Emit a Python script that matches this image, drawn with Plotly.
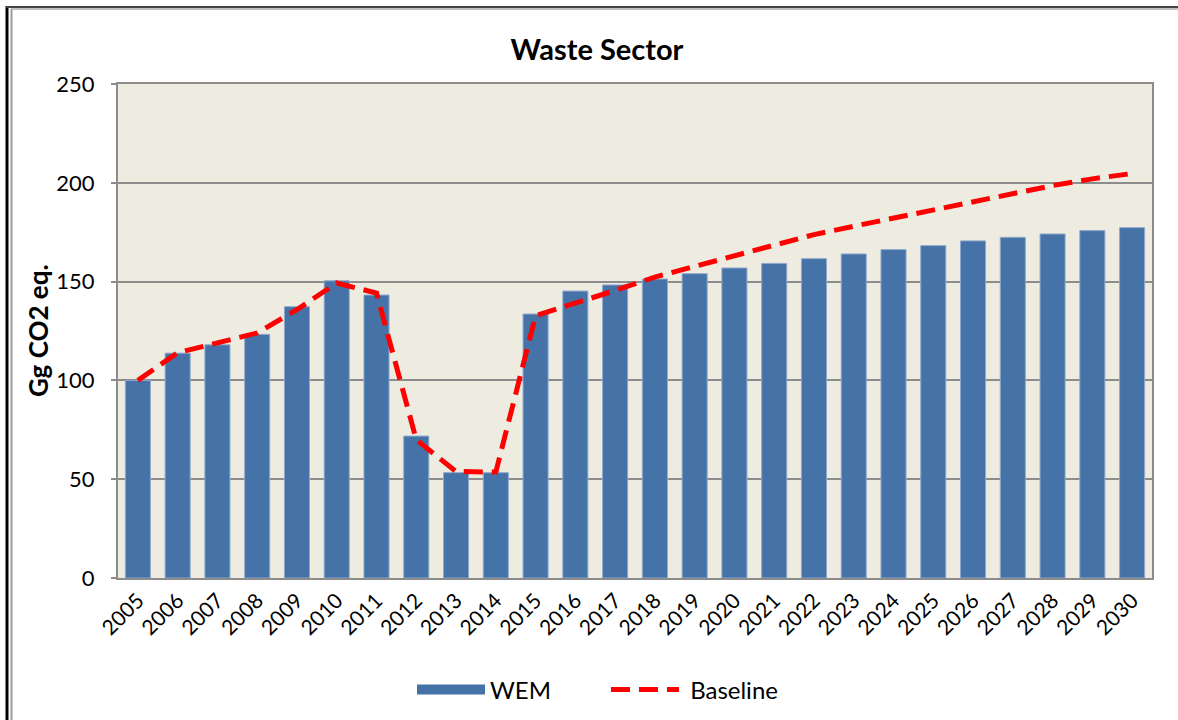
import plotly.graph_objects as go

years = [str(y) for y in range(2005, 2031)]
wem = [100, 113.8, 118, 123.3, 137.3, 150.4, 143.2, 71.8, 53.3, 53.3, 133.6, 145.2,
       148.3, 151.3, 154, 156.9, 159.2, 161.6, 164, 166.2, 168.2, 170.6, 172.4,
       174.1, 175.8, 177.3]
baseline = [100, 114, 119, 124, 135.8, 149.3, 144.2, 70, 53.9, 53.6, 132.7, 138.8,
            145.5, 152.3, 157.7, 163.6, 169, 173.8, 178, 182.2, 186.4, 190.6, 194.5,
            198.6, 202, 204.7]
y_ticks = [0, 50, 100, 150, 200, 250]

W, H = 1178, 720
L, R, T, B = 118, 26, 84, 142
pw, ph = W - L - R, H - T - B

def px(x):
    return (x - L) / pw

def py(y):
    return (H - B - y) / ph

FONT = "Lato"
BAR = "#4572A7"

fig = go.Figure()
fig.add_trace(go.Bar(
    x=years, y=wem, name="WEM", showlegend=False,
    marker=dict(color=BAR, line=dict(color="#8FA9CC", width=1)),
))
# legend proxy for the bar series (wide rectangle swatch like the original)
fig.add_trace(go.Scatter(
    x=[None], y=[None], name="WEM", mode="lines",
    line=dict(color=BAR, width=14),
))
fig.add_trace(go.Scatter(
    x=years, y=baseline, name=" Baseline", mode="lines",
    line=dict(color="#FF0000", width=5, dash="19px,9px"),
))

fig.update_layout(
    width=W, height=H,
    margin=dict(l=L, r=R, t=T, b=B, autoexpand=False),
    paper_bgcolor="white",
    plot_bgcolor="#EEEBE0",
    bargap=0.37,
    font=dict(family=FONT, size=22, color="black"),
    title=dict(text="<b>Waste Sector</b>", x=px(597), xref="paper", xanchor="center",
               y=1 - 50 / H, yref="container", yanchor="middle",
               font=dict(family=FONT, size=29, color="black")),
    showlegend=True,
    legend=dict(orientation="h", x=px(412), xanchor="left", y=py(690), yanchor="middle",
                font=dict(family=FONT, size=24), itemwidth=68, entrywidth=111,
                bgcolor="rgba(0,0,0,0)", traceorder="normal"),
    xaxis=dict(
        type="category", tickangle=-45, showgrid=False,
        showline=True, linecolor="#8C8C8C", linewidth=2, mirror=True,
        ticks="", tickfont=dict(family=FONT, size=21),
    ),
    yaxis=dict(
        range=[0, 250], tickvals=y_ticks, showgrid=True, gridcolor="#8C8C8C", gridwidth=2,
        showline=True, linecolor="#8C8C8C", linewidth=2, mirror=True,
        ticks="outside", ticklen=5, tickcolor="#8C8C8C", tickwidth=2,
        ticklabelstandoff=12, zeroline=False,
        tickfont=dict(family=FONT, size=22),
    ),
    annotations=[dict(
        text="<b>Gg CO2 eq.</b>", textangle=-90, x=px(38), y=0.5,
        xref="paper", yref="paper", xanchor="center", yanchor="middle",
        showarrow=False, font=dict(family=FONT, size=26, color="black"),
    )],
    shapes=[
        dict(type="line", xref="paper", yref="paper", x0=px(7), x1=px(7), y0=py(6), y1=py(722),
             line=dict(color="black", width=3)),
        dict(type="line", xref="paper", yref="paper", x0=px(11.5), x1=px(11.5), y0=py(9), y1=py(722),
             line=dict(color="#9A9A9A", width=2)),
        dict(type="line", xref="paper", yref="paper", x0=px(6), x1=px(1180), y0=py(7), y1=py(7),
             line=dict(color="#444444", width=2)),
        dict(type="line", xref="paper", yref="paper", x0=px(11), x1=px(1180), y0=py(9), y1=py(9),
             line=dict(color="#AAAAAA", width=1.5)),
    ],
)

fig.write_html("out.html", config={"displayModeBar": False},
               post_script="document.body.style.margin='0px';")
